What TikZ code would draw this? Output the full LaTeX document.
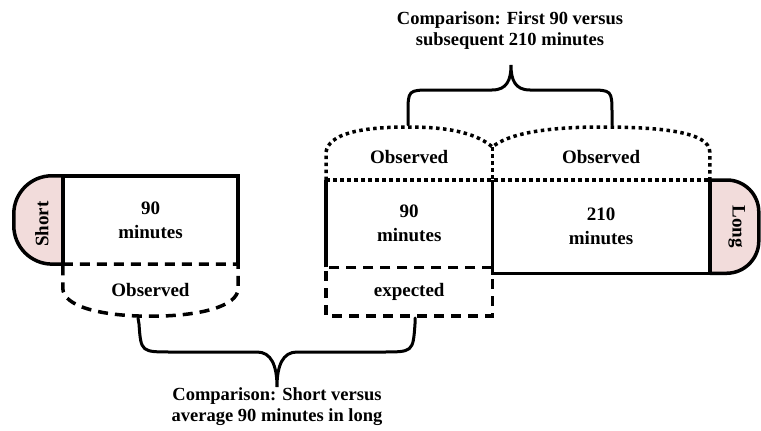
\documentclass[tikz,border=0pt]{standalone}
\usepackage{fontspec}
\setmainfont{Liberation Serif}
\usetikzlibrary{positioning, calc}
\definecolor{CapPink}{HTML}{F2DCDB}
\tikzset{
  slot/.style={inner sep=0pt, align=center, font=\bfseries\fontsize{19}{24}\selectfont},
  note/.style={inner sep=0pt, align=center, font=\bfseries\fontsize{18.5}{21}\selectfont},
  solidedge/.style={line width=3.5pt, line join=miter},
  dashedge/.style={line width=3.5pt, dash pattern=on 10pt off 7pt},
  dotedge/.style={line width=3.5pt, dash pattern=on 3.5pt off 3.5pt},
  capfill/.style={line width=3.5pt, fill=CapPink},
  bracepath/.style={line width=3pt, line cap=round},
}
\begin{document}
\begin{tikzpicture}[x=1pt, y=-1pt]
  \useasboundingbox (0,0) rectangle (761,431);
  % time slots
  \node[slot, minimum width=175pt, minimum height=88pt] (s90) at (150.5,220) {90\\minutes};
  \node[slot, minimum width=166pt, minimum height=87pt, anchor=north west] (l90) at (326,180) {90\\minutes};
  \node[slot, minimum width=217pt, minimum height=93pt, anchor=north west] (l210) at (l90.north east) {210\\minutes};
  \node[slot, minimum width=166pt, minimum height=48pt, anchor=north west] (expt) at (l90.south west) {expected};
  % caps
  \draw[capfill, rounded corners=38pt] (s90.north west) -- ++(-49,0) -- ++(0,88) -- (s90.south west);
  \draw[capfill, rounded corners=32pt] (l210.north east) -- ++(49,0) -- ++(0,93) -- (l210.south east);
  \node[slot, rotate=90] (shortlbl) at ($(s90.west)+(-21,4)$) {Short};
  \node[slot, rotate=-90] (longlbl) at ($(l210.east)+(27,0)$) {Long};
  % short group
  \draw[solidedge] (s90.south west) -- (s90.north west) -- (s90.north east) -- (s90.south east);
  \coordinate (sb) at ($(s90.south)+(0,52)$);
  \draw[dashedge] (s90.south west) -- (s90.south east) -- ++(0,24)
    .. controls +(0,18) and +(50,0) .. (sb)
    .. controls +(-50,0) and +(0,18) .. ($(s90.south west)+(0,24)$) -- cycle;
  \node[slot] (obsS) at ($(s90.south)+(0,26)$) {Observed};
  % long group
  \draw[solidedge] (l90.south west) -- (l90.north west);
  \draw[solidedge] (l210.north west) -- (l210.south west) -- (l210.south east) -- (l210.north east);
  \draw[dashedge] (expt.north east) -- (expt.north west) -- (expt.south west) -- (expt.south east) -- (expt.north east);
  \coordinate (jn) at ($(l90.north east)+(0,-33)$);
  \coordinate (ta) at ($(l90.north)+(0,-53)$);
  \coordinate (tb) at ($(l210.north)+(0,-53)$);
  \draw[dotedge] (l90.north west) -- (l210.north east);
  \draw[dotedge] (l90.north west) -- ++(0,-28)
    .. controls +(3,-18) and +(-50,0) .. (ta)
    .. controls +(45,0) and +(-14,-12) .. (jn)
    .. controls +(14,-12) and +(-60,0) .. (tb)
    .. controls +(60,0) and +(0,-20) .. ($(l210.north east)+(0,-28)$) -- (l210.north east);
  \draw[dotedge] (jn) -- (l90.north east);
  \node[slot] (obsA) at ($(l90.north)+(0,-23)$) {Observed};
  \node[slot] (obsB) at ($(l210.north)+(0,-23)$) {Observed};
  % braces
  \coordinate (bA) at (408,125);
  \coordinate (bB) at (612,125);
  \coordinate (tipT) at (511,65);
  \draw[bracepath] (bA) -- (408,114) .. controls (408,90) .. (432,90) -- (492,90)
    .. controls (507,90) and (511,80) .. (tipT)
    .. controls (511,80) and (515,90) .. (530,90) -- (588,90)
    .. controls (612,90) .. (612,114) -- (bB);
  \coordinate (bC) at (138,318);
  \coordinate (bD) at (415,318);
  \coordinate (tipB) at (277,387);
  \draw[bracepath] (bC) -- (139,324) .. controls (141,352) .. (172,352) -- (257,352)
    .. controls (271,352) and (277,365) .. (tipB)
    .. controls (277,365) and (283,352) .. (297,352) -- (382,352)
    .. controls (413,352) .. (415,324) -- (bD);
  \node[note] (cmpT) at (510,31) {Comparison: First 90 versus\\subsequent 210 minutes};
  \node[note] (cmpB) at (277,407) {Comparison: Short versus\\average 90 minutes in long};
\end{tikzpicture}
\end{document}
